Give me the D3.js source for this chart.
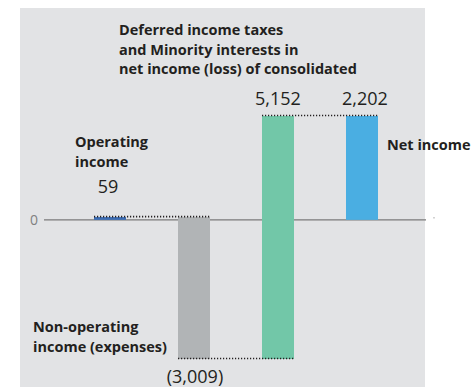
<!DOCTYPE html>
<html>
<head>
<meta charset="utf-8">
<script src="https://cdn.jsdelivr.net/npm/d3@7"></script>
<style>
  body { margin: 0; background: #fff; }
  text { font-family: "Open Sans", sans-serif; fill: #231f20; }
</style>
</head>
<body>
<svg id="chart"></svg>
<script>
// waterfall steps
var categories = ["Operating income", "Non-operating income (expenses)", "Deferred income taxes", "Net income"];
var values = [59, -3009, 5152, 2202];
var valueLabels = ["59", "(3,009)", "5,152", "2,202"];
var isTotal = [false, false, false, true];
var colors = ["#3a6cb4", "#b1b4b6", "#72c7a8", "#4aaee2"];

var width = 474, height = 387;

var svg = d3.select("#chart")
    .attr("width", width)
    .attr("height", height);

// background panel
svg.append("rect")
    .attr("x", 20)
    .attr("y", 8)
    .attr("width", 405)
    .attr("height", height - 8)
    .attr("fill", "#e2e3e5");

// build the running totals
var run = 0;
var data = values.map(function(v, i) {
    var d = {name: categories[i], value: v, label: valueLabels[i], color: colors[i]};
    if (isTotal[i]) { d.start = 0; d.end = v; }
    else { d.start = run; d.end = run + v; run = d.end; }
    return d;
});

var x = d3.scaleBand()
    .domain(categories)
    .range([68, 404])
    .paddingInner(0.619)
    .paddingOuter(0.3095);

var y = d3.scaleLinear()
    .domain([-2950, 2202])
    .range([359, 116]);

// zero line
svg.append("line")
    .attr("x1", 44)
    .attr("x2", 426)
    .attr("y1", y(0))
    .attr("y2", y(0))
    .attr("stroke", "#7a7a7a")
    .attr("stroke-width", 1.3);

svg.append("text")
    .attr("x", 38)
    .attr("y", y(0))
    .attr("dy", "0.35em")
    .attr("text-anchor", "end")
    .attr("font-size", "14px")
    .style("fill", "#808080")
    .text("0");

svg.append("circle")
    .attr("cx", 434)
    .attr("cy", y(0) - 2)
    .attr("r", 0.6)
    .attr("fill", "#777");

// bars
svg.selectAll(".bar")
    .data(data)
    .enter().append("rect")
    .attr("class", "bar")
    .attr("x", function(d) { return x(d.name); })
    .attr("width", x.bandwidth())
    .attr("y", function(d) { return y(Math.max(d.start, d.end)); })
    .attr("height", function(d) { return Math.max(Math.abs(y(d.start) - y(d.end)), 1); })
    .attr("fill", function(d) { return d.color; });

// dotted connectors
for (var i = 0; i < data.length - 1; i++) {
    svg.append("line")
        .attr("x1", x(data[i].name))
        .attr("x2", x(data[i + 1].name) + x.bandwidth())
        .attr("y1", y(data[i].end) - 0.5)
        .attr("y2", y(data[i].end) - 0.5)
        .attr("stroke", "#231f20")
        .attr("stroke-width", 1.6)
        .attr("stroke-dasharray", "1.2,1.8");
}

// value labels
var valuePos = [
    {dx: -2, y: 193},
    {dx: 1, y: 383},
    {dx: 0, y: 105},
    {dx: 3, y: 105}
];
svg.selectAll(".val")
    .data(data)
    .enter().append("text")
    .attr("class", "val")
    .attr("x", function(d, i) { return x(d.name) + x.bandwidth() / 2 + valuePos[i].dx; })
    .attr("y", function(d, i) { return valuePos[i].y; })
    .attr("text-anchor", "middle")
    .attr("font-size", "18px")
    .text(function(d) { return d.label; });

// category labels
var catLabels = [
    {lines: ["Operating", "income"], x: 75, y: 147},
    {lines: ["Non-operating", "income (expenses)"], x: 33, y: 332},
    {lines: ["Deferred income taxes", "and Minority interests in", "net income (loss) of consolidated"], x: 119, y: 35},
    {lines: ["Net income"], x: 387, y: 150}
];
catLabels.forEach(function(c) {
    var t = svg.append("text")
        .attr("x", c.x)
        .attr("y", c.y)
        .attr("font-size", "14.5px")
        .attr("font-weight", "bold");
    c.lines.forEach(function(l, j) {
        t.append("tspan")
            .attr("x", c.x)
            .attr("dy", j == 0 ? 0 : 19.5)
            .text(l);
    });
});
</script>
</body>
</html>
